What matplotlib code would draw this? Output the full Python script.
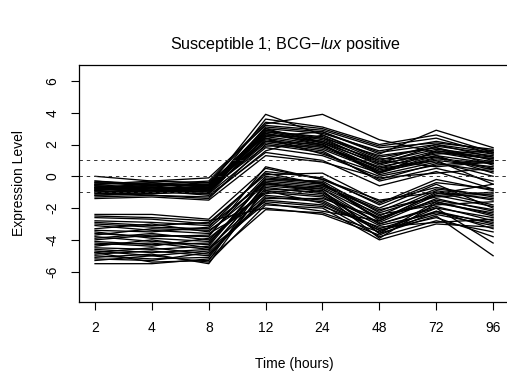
import matplotlib
matplotlib.use("Agg")
import matplotlib.pyplot as plt
import numpy as np

# time points and tick labels
timeLabels = ['2', '4', '8', '12', '24', '48', '72', '96']
xIndex = np.arange(1, len(timeLabels) + 1)
yTicks = [-6, -4, -2, 0, 2, 4, 6]
cutoffs = [1, 0, -1]

# upper cluster (profiles)
upper = [
    [-0.3, -0.5, -0.6, 3.9, 2.6, 1.2, 1.8, 1.0],
    [-0.5, -0.3, -0.4, 3.3, 3.9, 2.3, 1.5, 1.1],
    [-0.8, -0.7, -0.8, 3.1, 2.8, 1.4, 2.9, 1.8],
    [-1.0, -0.9, -1.0, 2.9, 2.4, 0.8, 1.9, 1.4],
    [-0.6, -0.8, -0.7, 2.7, 2.1, 0.5, 1.5, 0.9],
    [-1.2, -1.0, -1.1, 2.5, 2.0, 0.2, 1.2, 0.5],
    [-0.4, -0.6, -0.5, 2.8, 2.5, 1.0, 2.0, 1.5],
    [-0.9, -1.1, -0.9, 2.2, 1.7, 0.3, 1.0, 0.6],
    [-0.7, -0.5, -0.8, 2.6, 2.2, 0.7, 1.6, 1.2],
    [-1.3, -1.2, -1.4, 2.0, 1.5, -0.2, 0.8, 0.3],
    [-0.5, -0.4, -0.6, 3.0, 2.7, 1.6, 2.2, 1.6],
    [-1.1, -0.9, -1.2, 1.5, 1.0, -0.6, 0.3, -0.8],
    [-0.8, -1.0, -0.7, 2.4, 1.9, 0.6, 1.3, 0.2],
    [-0.6, -0.7, -0.9, 2.9, 2.3, 0.9, 1.7, 1.3],
    [0.0, -0.3, -0.1, 3.2, 2.9, 1.8, 2.1, 1.7],
    [-1.0, -0.8, -1.0, 2.3, 1.8, 0.4, 1.1, 0.8],
    [-0.9, -0.6, -0.5, 2.7, 2.0, 0.1, 0.9, 0.0],
    [-0.7, -0.9, -1.1, 1.8, 1.3, 0.0, 0.7, 1.0],
    [-0.4, -0.5, -0.3, 3.4, 3.0, 1.9, 2.4, 1.4],
    [-1.2, -1.1, -0.9, 2.1, 1.6, -0.3, 0.5, -0.3],
    [-0.5, -0.8, -0.6, 2.6, 2.4, 1.3, 1.8, 0.7],
    [-0.8, -0.4, -0.7, 3.0, 2.1, 0.8, 1.4, 1.6],
    [-1.0, -1.2, -1.3, 1.6, 2.6, 1.1, 1.2, 0.4],
    [-0.6, -0.9, -0.8, 2.4, 1.4, 0.2, 1.6, 1.1],
    [-0.9, -0.7, -1.0, 2.8, 2.2, 1.0, 0.6, 0.9],
    [-0.3, -0.6, -0.4, 2.5, 2.8, 1.5, 2.0, 1.2],
    [-1.1, -1.0, -0.8, 1.9, 1.9, 0.5, 1.0, -0.5],
    [-0.7, -0.6, -0.9, 3.6, 3.1, 2.0, 2.6, 1.5],
    [-1.4, -1.3, -1.5, 1.3, 0.9, -0.1, 0.2, 0.5],
    [-0.8, -0.9, -0.6, 2.2, 2.0, 0.3, 1.3, 0.8],
]

# lower cluster
lower = [
    [-2.4, -2.4, -2.7, 0.5, -0.2, -1.5, -1.0, -1.4],
    [-2.6, -2.7, -3.0, 0.2, -0.5, -2.0, -0.5, -2.0],
    [-3.0, -3.2, -3.3, -0.2, -0.3, -2.3, -1.2, -1.0],
    [-3.3, -3.0, -3.5, -0.5, -0.8, -2.6, -1.6, -2.5],
    [-3.6, -3.8, -3.7, 0.0, -0.4, -2.8, -1.0, -1.8],
    [-3.9, -3.6, -4.0, -0.8, -1.0, -3.0, -1.9, -2.8],
    [-4.1, -4.3, -4.2, -0.3, -0.6, -2.2, -0.8, -1.2],
    [-4.4, -4.0, -4.5, -1.2, -1.5, -3.3, -2.2, -3.0],
    [-4.6, -4.8, -4.6, -0.6, -0.9, -3.6, -2.5, -5.0],
    [-4.8, -4.5, -4.9, -1.5, -1.8, -3.8, -2.8, -3.5],
    [-5.0, -5.2, -5.1, -0.9, -1.2, -2.9, -1.4, -2.2],
    [-5.3, -5.0, -5.4, -1.8, -2.0, -4.0, -3.0, -3.2],
    [-5.5, -5.5, -5.2, -2.1, -2.3, -3.5, -2.0, -2.6],
    [-3.4, -3.5, -3.2, 0.3, -0.1, -1.8, -0.4, -0.8],
    [-2.8, -2.9, -3.1, -0.4, -0.7, -2.4, -1.8, -1.6],
    [-4.2, -4.4, -3.9, -1.0, -1.3, -3.1, -2.3, -2.9],
    [-3.8, -4.1, -4.3, -0.1, -0.4, -2.7, -1.1, -0.5],
    [-4.9, -4.7, -5.0, -1.3, -1.6, -3.4, -2.6, -3.8],
    [-5.1, -4.9, -5.5, -0.7, -1.1, -3.9, -1.7, -2.3],
    [-3.1, -3.4, -3.6, -1.6, -1.9, -3.2, -2.9, -2.7],
    [-4.5, -4.6, -4.4, -0.2, -0.5, -2.5, -0.9, -1.5],
    [-3.7, -3.3, -3.4, -1.1, -0.6, -2.1, -1.3, -1.1],
    [-2.5, -2.6, -2.8, -2.0, -2.4, -3.7, -2.2, -3.3],
    [-4.7, -5.0, -4.7, -0.5, -0.8, -3.0, -2.0, -4.2],
    [-4.0, -3.7, -3.8, 0.6, -0.2, -1.7, -0.2, -0.9],
    [-5.2, -5.3, -4.8, -1.4, -1.4, -2.6, -1.5, -2.1],
    [-3.5, -3.9, -4.1, -0.9, -1.7, -3.4, -2.4, -3.1],
    [-4.3, -4.2, -4.6, -1.7, -2.2, -2.8, -1.2, -1.9],
    [-2.9, -3.1, -2.9, 0.1, 0.2, -1.6, -0.7, -1.3],
    [-4.8, -5.4, -5.3, -0.4, -1.0, -3.6, -1.6, -2.4],
]

plt.rcParams['font.family'] = ['Liberation Sans', 'DejaVu Sans']
plt.rcParams['mathtext.fontset'] = 'custom'
plt.rcParams['mathtext.rm'] = 'Liberation Sans'
plt.rcParams['mathtext.it'] = 'Liberation Sans:italic'

fig = plt.figure(figsize=[5.07, 3.74], dpi=100)
ax = fig.add_axes([0.156, 0.193, 0.848, 0.633])

for prof in upper + lower:
    ax.plot(xIndex, prof, color='black', lw=0.95)

for c in cutoffs:
    ax.axhline(c, color='#333333', lw=0.7, linestyle=(0, (3.5, 4)))

ax.set_xlim(0.72, 8.28)
ax.set_ylim(-7.9, 7.0)
ax.set_xticks(xIndex)
ax.set_xticklabels(timeLabels, fontsize=10)
ax.set_yticks(yTicks)
ax.set_yticklabels([str(v) for v in yTicks], fontsize=10, rotation=90, va='center')
ax.tick_params(direction='out', length=6, width=0.8, pad=8)
for s in ax.spines.values():
    s.set_linewidth(0.9)

ax.set_xlabel('Time (hours)', fontsize=10, labelpad=16)
ax.set_ylabel('Expression Level', fontsize=10, labelpad=14)
fig.text(0.563, 0.868, r'Susceptible 1; BCG$-$$\mathit{lux}$ positive', fontsize=11.6, ha='center')

plt.savefig('out.png', dpi=100)
